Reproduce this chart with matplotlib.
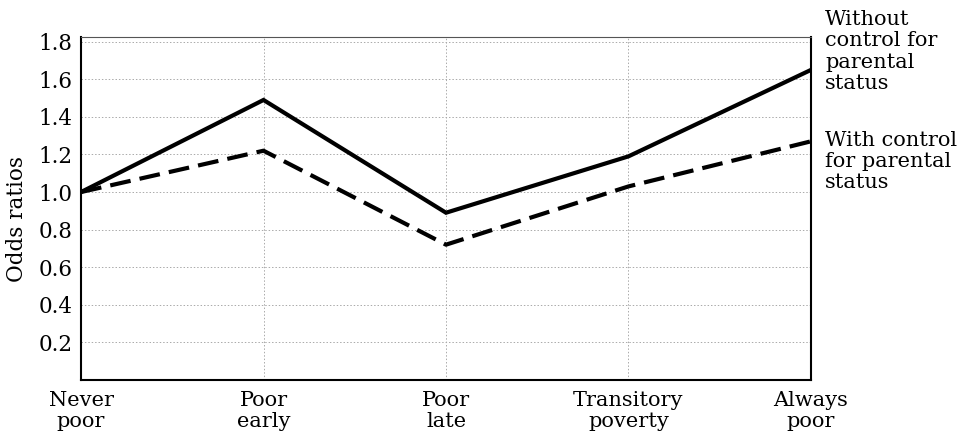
import numpy as np
import matplotlib.pyplot as plt

# categories and odds ratios
categories = ["Never\npoor", "Poor\nearly", "Poor\nlate", "Transitory\npoverty", "Always\npoor"]
without_control = [1.00, 1.49, 0.89, 1.19, 1.65]
with_control = [1.00, 1.22, 0.72, 1.03, 1.27]
yticks = [0.2, 0.4, 0.6, 0.8, 1.0, 1.2, 1.4, 1.6, 1.8]

plt.rcParams['font.family'] = ['DejaVu Serif']

fig = plt.figure(figsize=(9.62, 4.38), dpi=100)
ax = fig.add_axes([81/962, 1 - 380/438, (811-81)/962, (380-37)/438])

x = np.arange(len(categories))
ax.plot(x, without_control, color='black', lw=3.0, solid_joinstyle='miter')
ax.plot(x, with_control, color='black', lw=3.0, dashes=(5, 2.2))

ax.set_xlim(0, 4)
ax.set_ylim(0, 1.825)
ax.set_yticks(yticks)
ax.set_yticklabels([f"{v:.1f}" for v in yticks], fontsize=15.5)
ax.set_xticks(x)
ax.set_xticklabels(categories, fontsize=15, linespacing=1.15)
ax.tick_params(axis='both', length=0, pad=6)
ax.tick_params(axis='x', pad=8)

ax.grid(True, color='#aaaaaa', lw=0.7, ls=(0, (1.5, 2)))
for s in ['left', 'bottom', 'right']:
    ax.spines[s].set_linewidth(1.5)
ax.spines['top'].set_linewidth(0.8)
ax.spines['top'].set_color('#555555')

ax.set_ylabel("Odds ratios", fontsize=15.5)
ax.yaxis.set_label_coords(-0.072, 0.47)

fig.text(825/962, 1 - 10/438, "Without\ncontrol for\nparental\nstatus", fontsize=15,
         va='top', ha='left', linespacing=1.15)
fig.text(825/962, 1 - 131/438, "With control\nfor parental\nstatus", fontsize=15,
         va='top', ha='left', linespacing=1.15)

fig.savefig('out.png', dpi=100)
